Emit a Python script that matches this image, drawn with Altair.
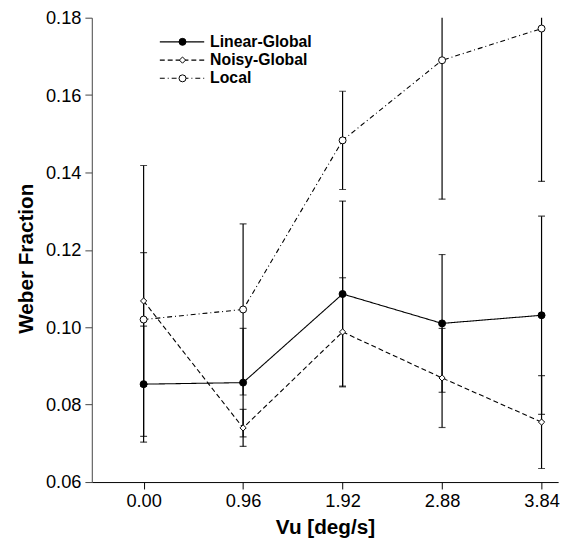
import altair as alt
import pandas as pd

# ---- data ----
vu = [0.00, 0.96, 1.92, 2.88, 3.84]
series_names = ["Linear-Global", "Noisy-Global", "Local"]
linear = [0.0853, 0.0857, 0.1086, 0.1010, 0.1031]
linear_err = [0.0150, 0.0140, 0.0240, 0.0178, 0.0256]
noisy = [0.1068, 0.0740, 0.0988, 0.0869, 0.0755]
noisy_err = [0.0350, 0.0048, 0.0140, 0.0128, 0.0120]
local = [0.1020, 0.1046, 0.1483, 0.1690, 0.1772]
local_err = [0.0173, 0.0221, 0.0127, 0.0359, 0.0395]
x_ticks = [0.00, 0.96, 1.92, 2.88, 3.84]
y_ticks = [0.06, 0.08, 0.10, 0.12, 0.14, 0.16, 0.18]

values = {"Linear-Global": (linear, linear_err),
          "Noisy-Global": (noisy, noisy_err),
          "Local": (local, local_err)}
styles = {"Linear-Global": dict(dash=[1, 0], shape="circle", fill="black", size=50),
          "Noisy-Global": dict(dash=[5, 3], shape="diamond", fill="white", size=40),
          "Local": dict(dash=[5, 3, 1, 3], shape="circle", fill="white", size=50)}

FONT = "Liberation Sans"

x_enc = alt.X("vu:Q",
              scale=alt.Scale(domain=[-0.5, 4.0], nice=False, zero=False),
              axis=alt.Axis(values=x_ticks, format=".2f", title="Vu [deg/s]",
                            tickSize=7, labelPadding=3, labelFontSize=18.5,
                            titleFontSize=21, titleFontWeight="bold",
                            titleY=46, titleBaseline="middle",
                            grid=False, domainColor="black", tickColor="black",
                            labelColor="black", titleColor="black"))
y_scale = alt.Scale(domain=[0.06, 0.18], nice=False, zero=False)
y_axis = alt.Axis(values=y_ticks, format=".2f", title="Weber Fraction",
                  tickSize=7, labelPadding=4, labelFontSize=18.5,
                  titleFontSize=21, titleFontWeight="bold",
                  titleX=-66, titleY=244, titleBaseline="middle",
                  grid=False, domainColor="#444444", tickColor="#444444",
                  labelColor="black", titleColor="black")

layers = []
# error bars
for name in series_names:
    vals, errs = values[name]
    df = pd.DataFrame({"vu": vu, "lo": [v - e for v, e in zip(vals, errs)],
                       "hi": [v + e for v, e in zip(vals, errs)]})
    layers.append(alt.Chart(df).mark_rule(clip=True, color="black", strokeWidth=1.2).encode(
        x=x_enc, y=alt.Y("lo:Q", scale=y_scale, axis=y_axis), y2="hi:Q"))
    caps = pd.DataFrame({"vu": vu + vu, "cap": df["lo"].tolist() + df["hi"].tolist()})
    layers.append(alt.Chart(caps).mark_tick(clip=True, color="black", size=7, thickness=1.2,
                                            orient="horizontal").encode(
        x=x_enc, y=alt.Y("cap:Q", scale=y_scale, axis=y_axis)))
# lines
for name in series_names:
    vals, errs = values[name]
    df = pd.DataFrame({"vu": vu, "wf": vals})
    st = styles[name]
    layers.append(alt.Chart(df).mark_line(color="black", strokeWidth=1.1,
                                          strokeDash=st["dash"]).encode(
        x=x_enc, y=alt.Y("wf:Q", scale=y_scale, axis=y_axis)))
# points
for name in series_names:
    vals, errs = values[name]
    df = pd.DataFrame({"vu": vu, "wf": vals})
    st = styles[name]
    layers.append(alt.Chart(df).mark_point(shape=st["shape"], filled=True, fill=st["fill"],
                                           stroke="black", strokeWidth=1, size=st["size"],
                                           opacity=1).encode(
        x=x_enc, y=alt.Y("wf:Q", scale=y_scale, axis=y_axis)))

# legend (inside plot, top-left)
legend_y = [24.5, 43, 61.5]
for i, name in enumerate(series_names):
    st = styles[name]
    one = pd.DataFrame({"name": [name]})
    base = alt.Chart(one)
    layers.append(base.mark_rule(color="black", strokeWidth=1.1, strokeDash=st["dash"]).encode(
        x=alt.value(69), x2=alt.value(114), y=alt.value(legend_y[i])))
    layers.append(base.mark_point(shape=st["shape"], filled=True, fill=st["fill"],
                                  stroke="black", strokeWidth=1, size=st["size"],
                                  opacity=1).encode(
        x=alt.value(92), y=alt.value(legend_y[i])))
    layers.append(base.mark_text(align="left", baseline="middle", font=FONT,
                                 fontWeight="bold", fontSize=16, color="black").encode(
        x=alt.value(120), y=alt.value(legend_y[i]), text="name:N"))

chart = alt.layer(*layers).properties(
    width=473, height=471,
    autosize=alt.AutoSizeParams(type="none"),
    padding={"left": 85, "top": 6, "right": 10, "bottom": 60},
).configure_view(stroke=None).configure_axis(
    labelFont=FONT, titleFont=FONT
)

chart.save("out.html", embed_options={"renderer": "svg", "actions": False})
